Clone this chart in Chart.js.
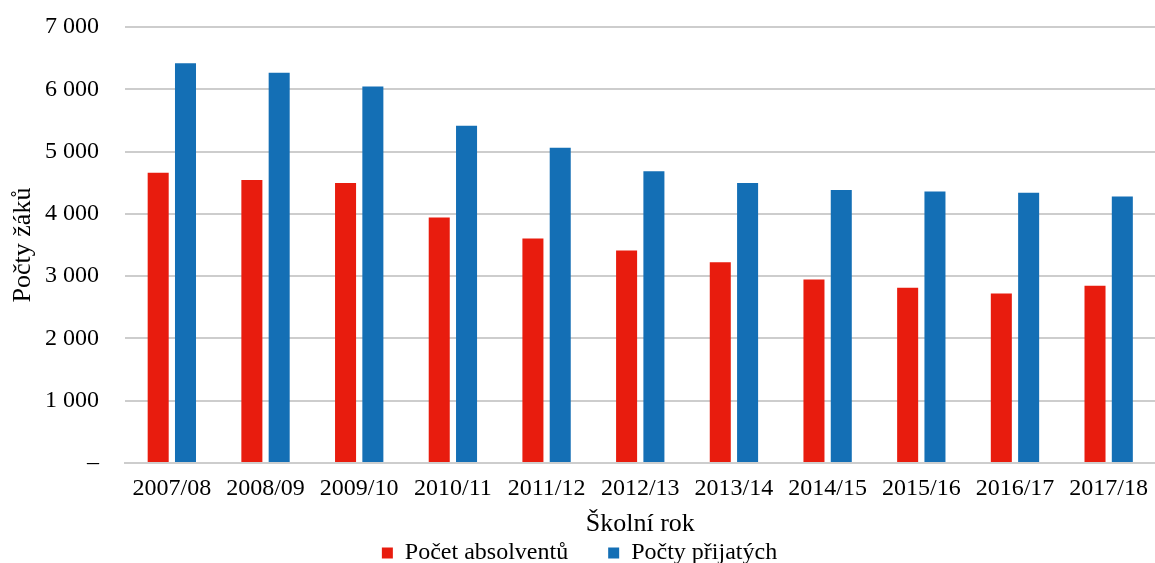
<!DOCTYPE html>
<html>
<head>
<meta charset="utf-8">
<script src="https://cdn.jsdelivr.net/npm/chart.js@4/dist/chart.umd.min.js"></script>
<style>
  html, body { margin: 0; padding: 0; background: #fff; overflow: hidden; }
  #wrap { width: 1159px; height: 575px; }
</style>
</head>
<body>
<div id="wrap"><canvas id="chart"></canvas></div>
<script>
// data
const years = ["2007/08", "2008/09", "2009/10", "2010/11", "2011/12", "2012/13",
  "2013/14", "2014/15", "2015/16", "2016/17", "2017/18"];
const absolventi = [4660, 4545, 4495, 3940, 3605, 3410, 3225, 2945, 2815, 2720, 2845];
const prijati = [6420, 6265, 6045, 5415, 5060, 4685, 4495, 4385, 4360, 4340, 4280];
const seriesNames = ["Počet absolventů", "Počty přijatých"];
const yMax = 7000;
const yStep = 1000;

const serif = "'Liberation Serif', 'Times New Roman', serif";
const gridColor = "#cdcdcd";

Chart.defaults.font.family = serif;
Chart.defaults.color = "#000";

function formatTick(value) {
  if (value === 0) return "–";
  return String(value).replace(/\B(?=(\d{3})+(?!\d))/g, " ");
}

// wider gap between the two legend entries
function legendLabels(chart) {
  const items = Chart.defaults.plugins.legend.labels.generateLabels(chart);
  items[0].text += "      ";
  return items;
}

new Chart(document.getElementById("chart"), {
  type: "bar",
  data: {
    labels: years,
    datasets: [
      {
        label: seriesNames[0],
        data: absolventi,
        backgroundColor: "#e81c0e",
        categoryPercentage: 0.583,
        barPercentage: 0.77,
      },
      {
        label: seriesNames[1],
        data: prijati,
        backgroundColor: "#146fb5",
        categoryPercentage: 0.583,
        barPercentage: 0.77,
      },
    ],
  },
  options: {
    responsive: true,
    maintainAspectRatio: false,
    animation: false,
    layout: { padding: 0 },
    plugins: {
      tooltip: { enabled: false },
      legend: {
        position: "bottom",
        labels: {
          boxWidth: 11,
          boxHeight: 11,
          padding: 4,
          font: { family: serif, size: 24 },
          generateLabels: legendLabels,
        },
      },
    },
    scales: {
      x: {
        afterFit(scale) {
          scale.height = 74;
        },
        grid: { display: false, drawTicks: false },
        border: { color: gridColor, width: 2 },
        ticks: {
          padding: 11,
          maxRotation: 0,
          font: { family: serif, size: 24 },
        },
        title: {
          display: true,
          text: "Školní rok",
          padding: { top: 0, bottom: 0 },
          font: { family: serif, size: 26, lineHeight: 1 },
        },
      },
      y: {
        min: 0,
        max: yMax,
        afterFit(scale) {
          scale.width = 125;
          scale.paddingTop = 27;
          scale.paddingBottom = 0;
        },
        grid: { color: gridColor, lineWidth: 2, drawTicks: false },
        border: { display: false },
        ticks: {
          stepSize: yStep,
          padding: 26,
          font: { family: serif, size: 24 },
          callback: formatTick,
        },
        title: {
          display: true,
          text: "Počty žáků",
          padding: { top: 8, bottom: 8 },
          font: { family: serif, size: 26 },
        },
      },
    },
  },
});
</script>
</body>
</html>
